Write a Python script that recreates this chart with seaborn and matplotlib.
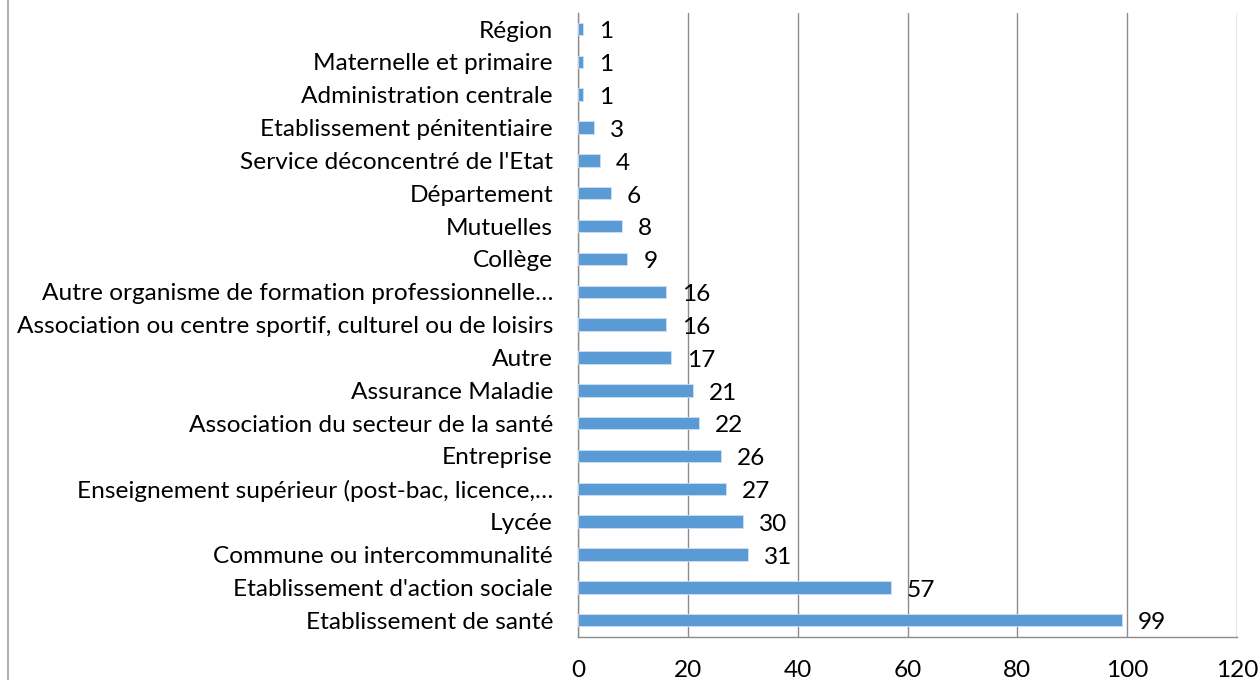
import matplotlib
matplotlib.use("Agg")
import matplotlib.pyplot as plt
import seaborn as sns
import pandas as pd
import numpy as np
from matplotlib.lines import Line2D

categories = [
    "Région",
    "Maternelle et primaire",
    "Administration centrale",
    "Etablissement pénitentiaire",
    "Service déconcentré de l'Etat",
    "Département",
    "Mutuelles",
    "Collège",
    "Autre organisme de formation professionnelle…",
    "Association ou centre sportif, culturel ou de loisirs",
    "Autre",
    "Assurance Maladie",
    "Association du secteur de la santé",
    "Entreprise",
    "Enseignement supérieur (post-bac, licence,…",
    "Lycée",
    "Commune ou intercommunalité",
    "Etablissement d'action sociale",
    "Etablissement de santé",
]
values = [1, 1, 1, 3, 4, 6, 8, 9, 16, 16, 17, 21, 22, 26, 27, 30, 31, 57, 99]
xticks = [0, 20, 40, 60, 80, 100, 120]

sns.set_theme(style="white")
plt.rcParams["font.family"] = ["Lato", "DejaVu Sans"]

FS = 17.6

df = pd.DataFrame({"cat": categories, "val": values})

fig = plt.figure(figsize=(12.6, 6.8), dpi=100)
ax = fig.add_axes([578 / 1260, 1 - 636.6 / 680, (1237 - 578) / 1260, (636.6 - 12.6) / 680])

sns.barplot(data=df, x="val", y="cat", order=categories, color="#5B9BD5",
            width=0.38, orient="h", ax=ax, saturation=1,
            edgecolor="#cfe0f2", linewidth=0.6, zorder=3)

ax.set_xlim(0, 120)
ax.set_ylim(len(categories) - 0.5, -0.5)
ax.set_xticks(xticks)
ax.set_xticklabels([str(t) for t in xticks], fontsize=FS)
ax.set_xlabel("")
ax.set_ylabel("")

# gridlines
ax.grid(axis="x", color="#8c8c8c", linewidth=1.0, zorder=0)
ax.grid(axis="y", visible=False)
ax.set_axisbelow(True)

# spines
for s in ["top", "right"]:
    ax.spines[s].set_visible(False)
for s in ["left", "bottom"]:
    ax.spines[s].set_color("#8c8c8c")
    ax.spines[s].set_linewidth(1.0)

# y ticks: labels at centers, tick marks at boundaries
ax.set_yticks(range(len(categories)))
ax.set_yticklabels(categories, fontsize=FS)
ax.tick_params(axis="y", which="major", length=0, pad=18, colors="#000000")
ax.set_yticks(np.arange(-0.5, len(categories), 1), minor=True)
ax.tick_params(axis="y", which="minor", length=6, color="#8c8c8c", width=1, direction="out")
ax.tick_params(axis="x", which="major", length=6, color="#8c8c8c", width=1,
               direction="out", pad=11, labelcolor="#000000")

# value labels
for i, v in enumerate(values):
    ax.annotate(str(v), xy=(v, i), xytext=(11.5, -2), textcoords="offset points",
                ha="left", va="center", fontsize=FS, color="#000000")

# outer frame left edge
fig.add_artist(Line2D([7.5 / 1260, 7.5 / 1260], [0, 1], transform=fig.transFigure,
                      color="#b0b0b0", linewidth=1.5))

fig.savefig("out.png", dpi=100)
